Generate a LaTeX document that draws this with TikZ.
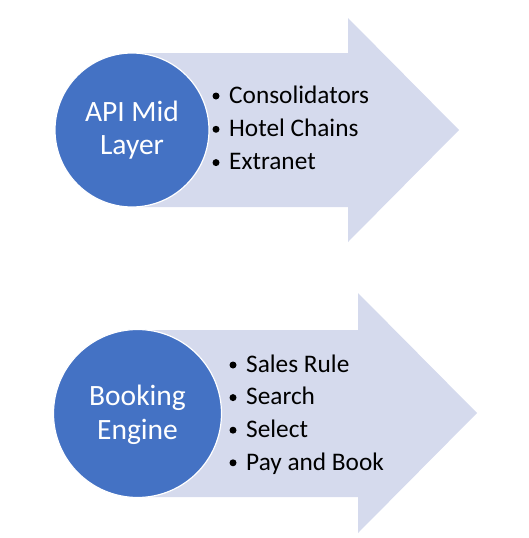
\documentclass[tikz,border=0pt]{standalone}
\usepackage{fontspec}
\setmainfont{Carlito}
\definecolor{arrowfill}{RGB}{213,218,237}
\definecolor{circfill}{RGB}{68,114,196}
\tikzset{
  bigarrow/.style={fill=arrowfill, draw=none},
  disc/.style={circle, fill=circfill, draw=white, line width=1.2pt, inner sep=0pt},
  disctext/.style={text=white, font=\fontsize{29.5}{34}\selectfont, anchor=base},
  item/.style={font=\fontsize{25.3}{33}\selectfont, anchor=base west, inner sep=0pt},
  dot/.style={circle, fill=black, inner sep=0pt, minimum size=7pt}
}
\begin{document}
\begin{tikzpicture}[x=1pt,y=-1pt]
\useasboundingbox (0,0) rectangle (529,538);
% top arrow
\fill[bigarrow] (132,53) -- (348,53) -- (348,18) -- (459,130) -- (348,242) -- (348,207) -- (132,207) -- cycle;
\node[disc, minimum size=154pt] (c1) at (132,130) {};
\node[disctext] (c1a) at (132,121.5) {API Mid};
\node[disctext] (c1b) at (132,154.5) {Layer};
\node[dot] (d1) at (216,96) {};
\node[item] (t1) at (229,103.3) {Consolidators};
\node[dot] (d2) at (216,129.3) {};
\node[item] (t2) at (229,136.6) {Hotel Chains};
\node[dot] (d3) at (216,162.6) {};
\node[item] (t3) at (229,169.9) {Extranet};
% bottom arrow
\fill[bigarrow] (138,330) -- (358,330) -- (358,293) -- (477,413) -- (358,533) -- (358,497) -- (138,497) -- cycle;
\node[disc, minimum size=168pt] (c2) at (137.5,413.5) {};
\node[disctext] (c2a) at (137.5,405.7) {Booking};
\node[disctext] (c2b) at (137.5,439) {Engine};
\node[dot] (e1) at (233,365) {};
\node[item] (s1) at (246,372.3) {Sales Rule};
\node[dot] (e2) at (233,397.6) {};
\node[item] (s2) at (246,404.9) {Search};
\node[dot] (e3) at (233,430.2) {};
\node[item] (s3) at (246,437.5) {Select};
\node[dot] (e4) at (233,462.8) {};
\node[item] (s4) at (246,470.1) {Pay and Book};
\end{tikzpicture}
\end{document}
